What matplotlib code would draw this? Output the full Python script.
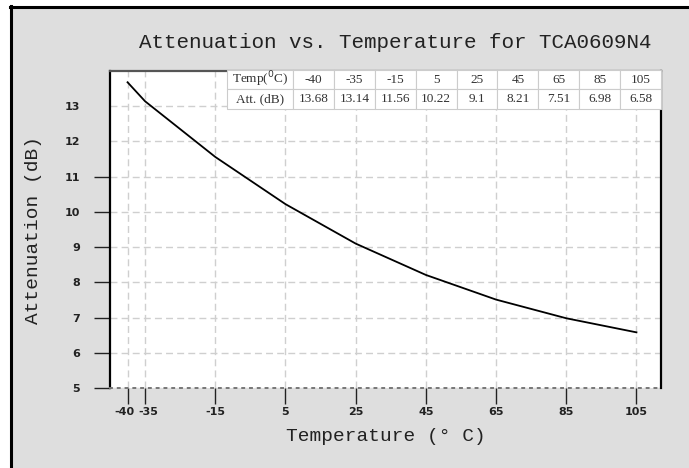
import matplotlib
matplotlib.use("Agg")
import matplotlib.pyplot as plt
from matplotlib.patches import Rectangle
from matplotlib.lines import Line2D
from matplotlib.transforms import ScaledTranslation

temps = [-40, -35, -15, 5, 25, 45, 65, 85, 105]
atten = [13.68, 13.14, 11.56, 10.22, 9.1, 8.21, 7.51, 6.98, 6.58]
y_ticks = [5, 6, 7, 8, 9, 10, 11, 12, 13]

title = "Attenuation vs. Temperature for TCA0609N4"
bg = "#dedede"
mono = "Liberation Mono"

fig = plt.figure(figsize=(6.89, 4.68), dpi=100)
fig.patch.set_facecolor("white")
# gray panel with black top/left border
fig.add_artist(Rectangle((11 / 689, 0), 1, 461 / 468, transform=fig.transFigure,
                         facecolor=bg, edgecolor="none", zorder=-10))
fig.add_artist(Line2D([10 / 689, 1], [461 / 468, 461 / 468], transform=fig.transFigure,
                      color="black", lw=2.2))
fig.add_artist(Line2D([10.5 / 689, 10.5 / 689], [0, 462 / 468], transform=fig.transFigure,
                      color="black", lw=2.2))

ax = fig.add_axes([110 / 689, 1 - 388 / 468, 551 / 689, 317 / 468])
ax.set_facecolor("white")
ax.plot(temps, atten, color="black", lw=1.3, zorder=3)

ax.set_xlim(-45, 112)
ax.set_ylim(5, 14)
ax.set_xticks(temps)
ax.set_xticklabels([str(t) for t in temps])
ax.set_yticks(y_ticks)
ax.grid(True, linestyle=(0, (5, 3)), color="#cfcfcf", lw=1.0)

for side in ["left", "right"]:
    ax.spines[side].set_color("black")
    ax.spines[side].set_linewidth(1.6)
ax.spines["top"].set_color("#555555")
ax.spines["top"].set_linewidth(1.6)
ax.spines["bottom"].set_color("#777777")
ax.spines["bottom"].set_linewidth(1.4)
ax.spines["bottom"].set_linestyle((0, (1, 3)))

ax.tick_params(axis="both", direction="out", length=11.5, width=1.0, color="#222222",
               labelsize=8)
ax.tick_params(axis="x", pad=2)
ax.tick_params(axis="y", pad=10)
for lab in ax.get_xticklabels() + ax.get_yticklabels():
    lab.set_fontweight("bold")
    lab.set_color("#222222")
# -40 and -35 sit very close; nudge them apart a little
xl = ax.get_xticklabels()
xl[0].set_transform(xl[0].get_transform() + ScaledTranslation(-2 / 72, 0, fig.dpi_scale_trans))
xl[1].set_transform(xl[1].get_transform() + ScaledTranslation(2 / 72, 0, fig.dpi_scale_trans))
# reference shows no tick marks at 12 and 13
for t in ax.yaxis.get_major_ticks()[-2:]:
    t.tick1line.set_visible(False)

fig.text(395 / 689, 1 - 43 / 468, title, ha="center", va="center",
         fontsize=15, family=mono, color="#222222")
ax.set_xlabel("Temperature (° C)", fontsize=14, family=mono, color="#222222", labelpad=8)
ax.set_ylabel("Attenuation (dB)", fontsize=14, family=mono, color="#222222", labelpad=16)

# data table in the top right corner
row_labels = ["Temp($^0$C)", "Att. (dB)"]
cells = [[row_labels[0]] + [str(t) for t in temps],
         [row_labels[1]] + [str(a) for a in atten]]
first_w = 0.152
other_w = (1 - first_w) / len(temps)
tbl = ax.table(cellText=cells, colWidths=[first_w] + [other_w] * len(temps),
               cellLoc="center", bbox=[0.2123, 0.880, 0.7877, 0.124])
tbl.auto_set_font_size(False)
tbl.set_fontsize(9.5)
for (r, c), cell in tbl.get_celld().items():
    cell.set_edgecolor("#cccccc")
    cell.set_linewidth(0.8)
    cell.set_facecolor("white")
    cell.get_text().set_family("Liberation Serif")
    cell.get_text().set_color("#333333")
tbl.set_zorder(5)

fig.savefig("out.png", dpi=100)
